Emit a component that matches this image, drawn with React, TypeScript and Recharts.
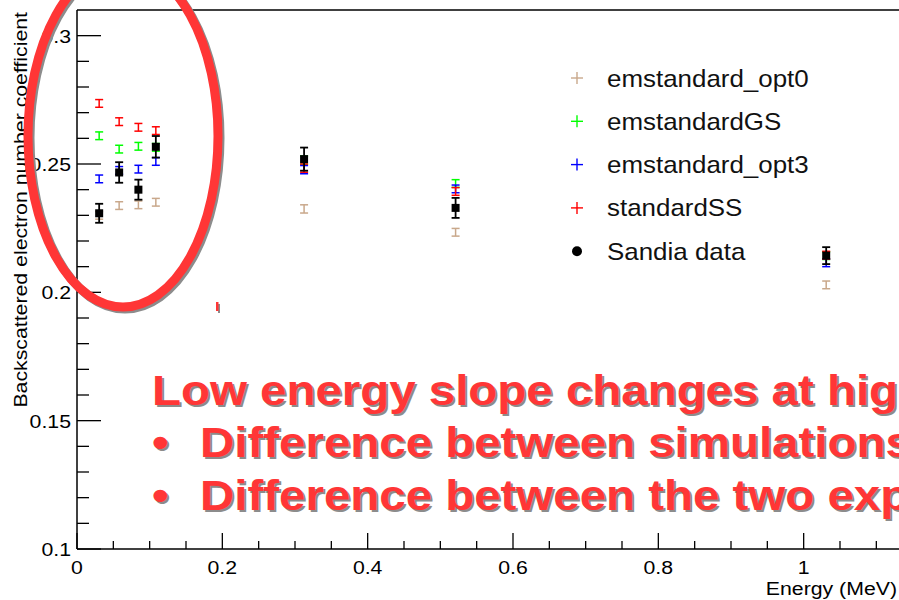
import React from "react";
import { ErrorBar, Legend, ReferenceLine, Scatter, ScatterChart, XAxis, YAxis } from "recharts";

// energies (MeV) shared by every series
const ENERGY = [0.0305, 0.058, 0.0845, 0.1085, 0.3125, 0.521, 1.031];

// backscattered electron number coefficient
const OPT0 = [0.23, 0.2338, 0.2341, 0.2351, 0.2325, 0.2234, 0.2029];
const GS = [0.261, 0.2558, 0.2569, 0.2565, 0.2515, 0.2424, 0.2143];
const OPT3 = [0.2442, 0.2475, 0.248, 0.251, 0.2478, 0.2403, 0.2115];
const SS = [0.2736, 0.2665, 0.2643, 0.263, 0.2484, 0.2393, 0.2145];
const SANDIA = [0.2308, 0.2467, 0.24, 0.2567, 0.2519, 0.2329, 0.2143];

const SIM_ERR = [0.0015, 0.0015, 0.0015, 0.0015, 0.0016, 0.0015, 0.0015];
const SANDIA_ERR = [0.0037, 0.004, 0.0039, 0.0042, 0.0045, 0.0039, 0.0033];

const X_TICKS = [0, 0.05, 0.1, 0.15, 0.2, 0.25, 0.3, 0.35, 0.4, 0.45, 0.5, 0.55, 0.6, 0.65, 0.7, 0.75, 0.8, 0.85, 0.9, 0.95, 1, 1.05, 1.1, 1.15];
const X_MAJOR = [0, 0.2, 0.4, 0.6, 0.8, 1];
const X_LABELS = ["0", "0.2", "0.4", "0.6", "0.8", "1"];
const Y_TICKS = [0.1, 0.11, 0.12, 0.13, 0.14, 0.15, 0.16, 0.17, 0.18, 0.19, 0.2, 0.21, 0.22, 0.23, 0.24, 0.25, 0.26, 0.27, 0.28, 0.29, 0.3];
const Y_MAJOR = [0.1, 0.15, 0.2, 0.25, 0.3];
const Y_LABELS = ["0.1", "0.15", "0.2", "0.25", "0.3"];

const NOTE_LINES = [
  "Low energy slope changes at higher energies",
  "Difference between simulations",
  "Difference between the two experiments",
];

const SERIES = [
  { name: "emstandard_opt0", color: "#c9a88b", values: OPT0 },
  { name: "emstandardGS", color: "#00ff00", values: GS },
  { name: "emstandard_opt3", color: "#0000ff", values: OPT3 },
  { name: "standardSS", color: "#ff0000", values: SS },
];

const FONT = '"Liberation Sans", Arial, sans-serif';
const NOTE_RED = "#ff3636";

const rows = (values: number[], errors: number[]) =>
  ENERGY.map((x, i) => ({ x, y: values[i], err: errors[i] }));

const majorIndex = (list: number[], v: number) => list.findIndex((m) => Math.abs(m - v) < 1e-9);

function XTick(props: any) {
  const { x, y, payload } = props;
  const i = majorIndex(X_MAJOR, payload.value);
  return (
    <g>
      <line x1={x} x2={x} y1={y} y2={y - (i >= 0 ? 16 : 8)} stroke="#000" strokeWidth={1.3} />
      {i >= 0 && (
        <text transform={`translate(${x},${y + 25}) scale(1.12,1)`} textAnchor="middle" fontFamily={FONT} fontSize={19} fill="#000">
          {X_LABELS[i]}
        </text>
      )}
    </g>
  );
}

function YTick(props: any) {
  const { x, y, payload } = props;
  const i = majorIndex(Y_MAJOR, payload.value);
  return (
    <g>
      <line x1={x} x2={x + (i >= 0 ? 24 : 12)} y1={y} y2={y} stroke="#000" strokeWidth={1.3} />
      {i >= 0 && (
        <text transform={`translate(${x - 6},${y + 7}) scale(1.12,1)`} textAnchor="end" fontFamily={FONT} fontSize={19} fill="#000">
          {Y_LABELS[i]}
        </text>
      )}
    </g>
  );
}

function LegendBox() {
  const items = [...SERIES.map((s) => ({ name: s.name, color: s.color, dot: false })), { name: "Sandia data", color: "#000", dot: true }];
  return (
    <svg width={330} height={230}>
      {items.map((it, i) => {
        const cy = 22 + i * 43.3;
        return (
          <g key={it.name}>
            {it.dot ? (
              <circle cx={17} cy={cy} r={5} fill="#000" />
            ) : (
              <g stroke={it.color} strokeWidth={1.4}>
                <line x1={11} x2={23} y1={cy} y2={cy} />
                <line x1={17} x2={17} y1={cy - 6} y2={cy + 6} />
              </g>
            )}
            <text transform={`translate(47,${cy + 8.5}) scale(1.08,1)`} fontFamily={FONT} fontSize={24} fill="#111">
              {it.name}
            </text>
          </g>
        );
      })}
    </svg>
  );
}

function NoteText({ x, y, children }: { x: number; y: number; children: string }) {
  const style = { fontFamily: FONT, fontWeight: 700, fontSize: 42 } as const;
  return (
    <g>
      <text transform={`translate(${x + 2},${y + 2}) scale(1.13,1)`} style={style} fill="#8c8c8c">{children}</text>
      <text transform={`translate(${x},${y}) scale(1.13,1)`} style={style} fill={NOTE_RED}>{children}</text>
    </g>
  );
}

export default function App() {
  return (
    <div style={{ position: "absolute", left: 0, top: 0, width: 899, height: 600, overflow: "hidden", background: "#fff" }}>
      <ScatterChart width={960} height={600} margin={{ top: 10, right: 11, bottom: 0, left: 0 }}>
        <XAxis
          type="number"
          dataKey="x"
          domain={[0, 1.2]}
          ticks={X_TICKS}
          interval={0}
          allowDataOverflow
          height={51}
          tickSize={0}
          tickMargin={0}
          tickLine={false}
          axisLine={{ stroke: "#000", strokeWidth: 1.5 }}
          tick={(p: any) => <XTick {...p} />}
        />
        <YAxis
          type="number"
          dataKey="y"
          domain={[0.1, 0.31]}
          ticks={Y_TICKS}
          interval={0}
          allowDataOverflow
          width={77}
          tickSize={0}
          tickMargin={0}
          tickLine={false}
          axisLine={{ stroke: "#000", strokeWidth: 1.5 }}
          tick={(p: any) => <YTick {...p} />}
        />
        <ReferenceLine y={0.31} stroke="#000" strokeWidth={1.3} />
        {SERIES.map((s) => (
          <Scatter key={s.name} name={s.name} data={rows(s.values, SIM_ERR)} isAnimationActive={false} shape={() => <g />}>
            <ErrorBar dataKey="err" direction="y" width={4} stroke={s.color} strokeWidth={1.5} />
          </Scatter>
        ))}
        <Scatter
          name="Sandia data"
          data={rows(SANDIA, SANDIA_ERR)}
          isAnimationActive={false}
          shape={(p: any) => <rect x={p.cx - 4} y={p.cy - 4} width={8} height={8} fill="#000" />}
        >
          <ErrorBar dataKey="err" direction="y" width={4} stroke="#000" strokeWidth={1.8} />
        </Scatter>
        <Legend
          layout="vertical"
          align="center"
          verticalAlign="middle"
          wrapperStyle={{ left: 560, top: 56, width: 330, height: 230 }}
          content={() => <LegendBox />}
        />
      </ScatterChart>

      <svg width={899} height={600} style={{ position: "absolute", left: 0, top: 0, pointerEvents: "none" }}>
        <text transform="translate(26.5,12) rotate(-90) scale(1.12,1)" textAnchor="end" fontFamily={FONT} fontSize={19} fill="#000">
          Backscattered electron number coefficient
        </text>
        <text transform="translate(897,595) scale(1.12,1)" textAnchor="end" fontFamily={FONT} fontSize={19} fill="#000">
          Energy (MeV)
        </text>

        <ellipse cx={125} cy={138} rx={95} ry={171} fill="none" stroke="#8c8c8c" strokeWidth={9} />
        <ellipse cx={123} cy={136} rx={95} ry={171} fill="none" stroke={NOTE_RED} strokeWidth={9} />
        <rect x={218} y={304} width={2} height={9} fill="#8c8c8c" />
        <rect x={216} y={302} width={2.5} height={9} fill={NOTE_RED} />

        <NoteText x={152} y={405}>{NOTE_LINES[0]}</NoteText>
        <NoteText x={152} y={457}>•</NoteText>
        <NoteText x={200} y={457}>{NOTE_LINES[1]}</NoteText>
        <NoteText x={152} y={510}>•</NoteText>
        <NoteText x={200} y={510}>{NOTE_LINES[2]}</NoteText>
      </svg>
    </div>
  );
}
